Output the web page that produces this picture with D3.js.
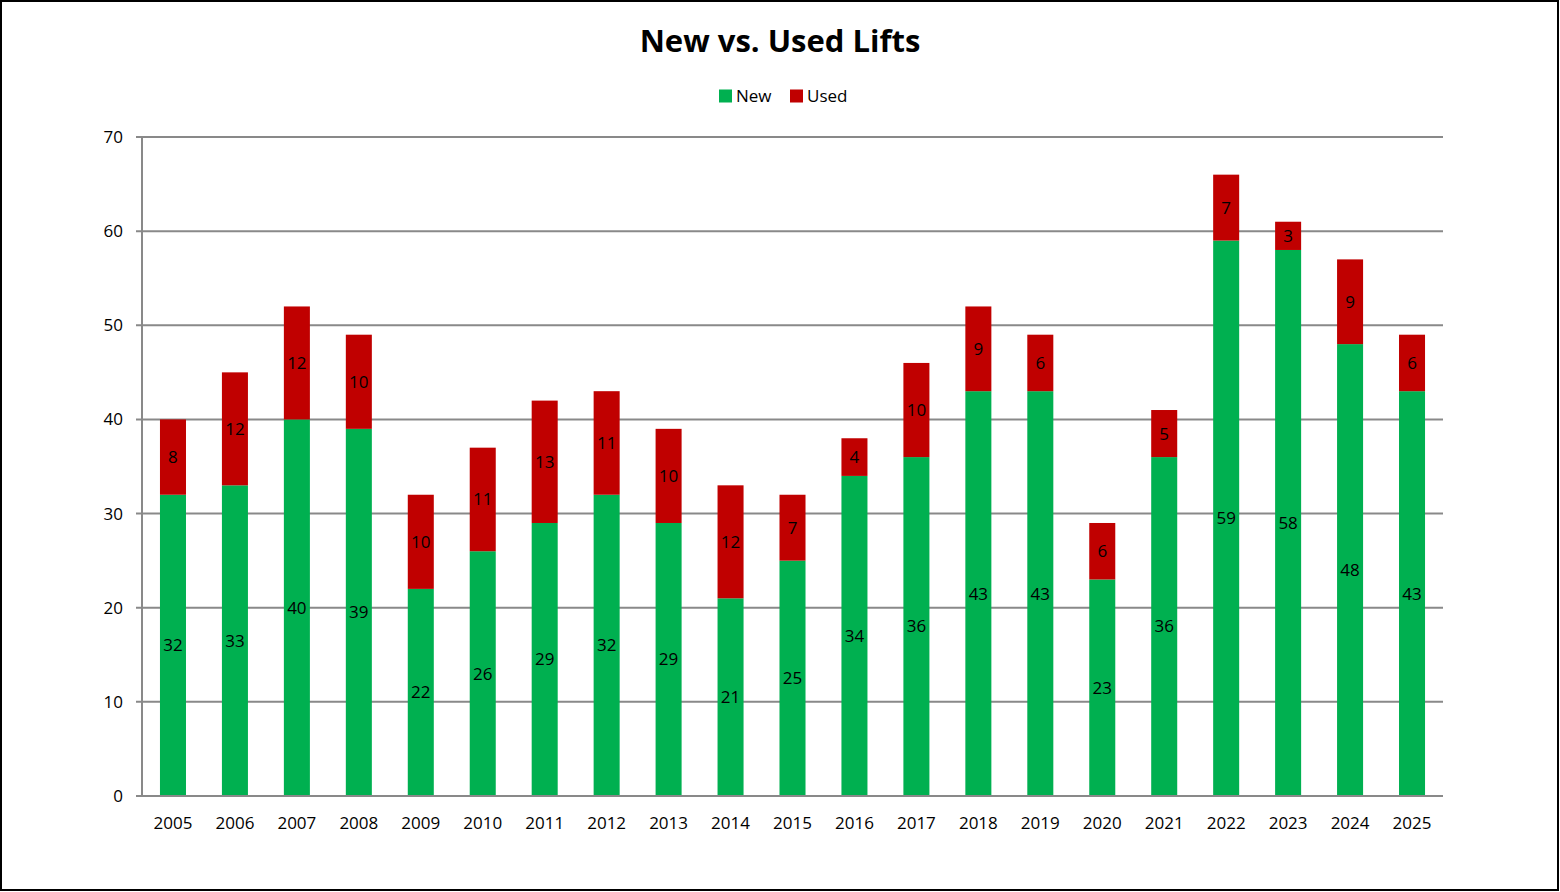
<!DOCTYPE html>
<html lang="en">
<head>
<meta charset="utf-8">
<title>New vs. Used Lifts</title>
<script src="https://d3js.org/d3.v7.min.js"></script>
<style>
  html, body { margin: 0; padding: 0; background: #fff; }
  #chart text { font-family: "Open Sans", "Noto Sans", sans-serif; }
</style>
</head>
<body>
<div id="chart"></div>
<script>
const years = ["2005","2006","2007","2008","2009","2010","2011","2012","2013","2014","2015",
               "2016","2017","2018","2019","2020","2021","2022","2023","2024","2025"];
const newLifts  = [32,33,40,39,22,26,29,32,29,21,25,34,36,43,43,23,36,59,58,48,43];
const usedLifts = [8,12,12,10,10,11,13,11,10,12,7,4,10,9,6,6,5,7,3,9,6];
const seriesNames = ["New", "Used"];
const colors = ["#00b050", "#c00000"];
const yTicks = [0,10,20,30,40,50,60,70];

const W = 1560, H = 892;
const plot = {left: 142, right: 1443, top: 137, bottom: 796};

const svg = d3.select("#chart").append("svg")
  .attr("width", W).attr("height", H);

svg.append("rect")
  .attr("x", 1).attr("y", 1).attr("width", W - 3).attr("height", H - 3)
  .attr("fill", "#fff").attr("stroke", "#000").attr("stroke-width", 2);

const rows = years.map((y, i) => ({year: y, New: newLifts[i], Used: usedLifts[i]}));
const stacked = d3.stack().keys(seriesNames)(rows);

const x = d3.scaleBand().domain(years).range([plot.left, plot.right]).paddingInner(0.58).paddingOuter(0.29);
const y = d3.scaleLinear().domain([0, 70]).range([plot.bottom, plot.top]);

// gridlines
svg.append("g").selectAll("line").data(yTicks).join("line")
  .attr("x1", plot.left - 6).attr("x2", plot.right)
  .attr("y1", d => y(d)).attr("y2", d => y(d))
  .attr("stroke", "#898989").attr("stroke-width", 2);

// y axis line
svg.append("line")
  .attr("x1", plot.left).attr("x2", plot.left)
  .attr("y1", plot.top).attr("y2", plot.bottom)
  .attr("stroke", "#898989").attr("stroke-width", 2);

svg.append("g").selectAll("text").data(yTicks).join("text")
  .attr("x", plot.left - 19).attr("y", d => y(d)).attr("dy", "0.35em")
  .attr("text-anchor", "end").attr("font-size", 17).attr("fill", "#000")
  .text(d => d);

// bars
const layers = svg.append("g").selectAll("g").data(stacked).join("g")
  .attr("fill", (d, i) => colors[i]);
layers.selectAll("rect").data(d => d).join("rect")
  .attr("x", d => x(d.data.year))
  .attr("width", x.bandwidth())
  .attr("y", d => y(d[1]))
  .attr("height", d => y(d[0]) - y(d[1]));

// data labels
layers.selectAll("text").data(d => d).join("text")
  .attr("x", d => x(d.data.year) + x.bandwidth() / 2)
  .attr("y", d => (y(d[0]) + y(d[1])) / 2).attr("dy", "0.35em")
  .attr("text-anchor", "middle").attr("font-size", 17).attr("fill", "#000")
  .text(d => d[1] - d[0]);

// x axis line drawn over bars
svg.append("line")
  .attr("x1", plot.left - 6).attr("x2", plot.right)
  .attr("y1", plot.bottom).attr("y2", plot.bottom)
  .attr("stroke", "#898989").attr("stroke-width", 2);

svg.append("g").selectAll("text").data(years).join("text")
  .attr("x", d => x(d) + x.bandwidth() / 2).attr("y", plot.bottom + 27)
  .attr("dy", "0.35em").attr("text-anchor", "middle")
  .attr("font-size", 17).attr("fill", "#000")
  .text(d => d);

// title
svg.append("text")
  .attr("x", 780).attr("y", 41).attr("dy", "0.35em")
  .attr("text-anchor", "middle").attr("font-size", 31).attr("font-weight", "bold")
  .attr("fill", "#000").text("New vs. Used Lifts");

// legend
const legend = svg.append("g").selectAll("g").data(seriesNames).join("g")
  .attr("transform", (d, i) => `translate(${[719, 790][i]},96)`);
legend.append("rect").attr("x", 0).attr("y", -6.5).attr("width", 13).attr("height", 13)
  .attr("fill", (d, i) => colors[i]);
legend.append("text").attr("x", 17).attr("dy", "0.35em")
  .attr("font-size", 17).attr("fill", "#000").text(d => d);
</script>
</body>
</html>
